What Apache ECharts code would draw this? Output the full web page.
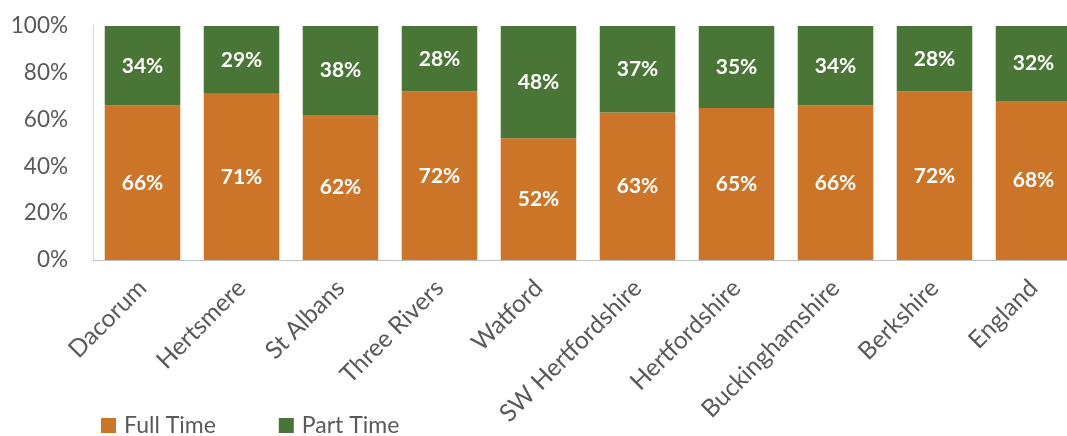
<!DOCTYPE html>
<html><head><meta charset="utf-8">
<script src="https://cdn.jsdelivr.net/npm/echarts@6/dist/echarts.min.js"></script>
<style>html,body{margin:0;padding:0;background:#fff}#c{width:1067px;height:436px}</style>
</head><body><div id="c"></div>
<script>
const categories = ['Dacorum','Hertsmere','St Albans','Three Rivers','Watford','SW Hertfordshire','Hertfordshire','Buckinghamshire','Berkshire','England'];
const fullTime = [66,71,62,72,52,63,65,66,72,68];
const partTime = [34,29,38,28,48,37,35,34,28,32];
const yTicks = [0,20,40,60,80,100];

const font = 'Lato, "Noto Sans", sans-serif';
const chart = echarts.init(document.getElementById('c'), null, {renderer:'canvas'});
const lbl = {show:true, position:'inside', color:'#fff', fontWeight:'bold', fontSize:21, fontFamily:font, formatter: p => p.value + '%'};
chart.setOption({
  animation:false,
  grid:{left:93, top:26, width:990, height:234, containLabel:false, outerBoundsMode:'none'},
  legend:{
    data:['Full Time','Part Time'], left:101, top:414, padding:0, itemWidth:15, itemHeight:15, itemGap:63, icon:'rect',
    textStyle:{fontSize:23, color:'#595959', fontFamily:font, padding:[0,0,0,3]}
  },
  xAxis:{
    type:'category', data:categories,
    axisLine:{lineStyle:{color:'#bfbfbf'}}, axisTick:{show:false},
    axisLabel:{rotate:45, fontSize:24.5, color:'#595959', fontFamily:font, margin:24, interval:0}
  },
  yAxis:{
    type:'value', min:0, max:100, interval:20,
    axisLine:{show:true, lineStyle:{color:'#d9d9d9'}}, axisTick:{show:false}, splitLine:{show:false},
    axisLabel:{fontSize:22.5, color:'#595959', fontFamily:font, margin:25, formatter: v => yTicks.includes(v) ? v + '%' : ''}
  },
  series:[
    {name:'Full Time', type:'bar', stack:'a', data:fullTime, barWidth:'76.3%', itemStyle:{color:'#CC7427'}, label:lbl},
    {name:'Part Time', type:'bar', stack:'a', data:partTime, barWidth:'76.3%', itemStyle:{color:'#497636'}, label:lbl}
  ]
});
</script></body></html>
